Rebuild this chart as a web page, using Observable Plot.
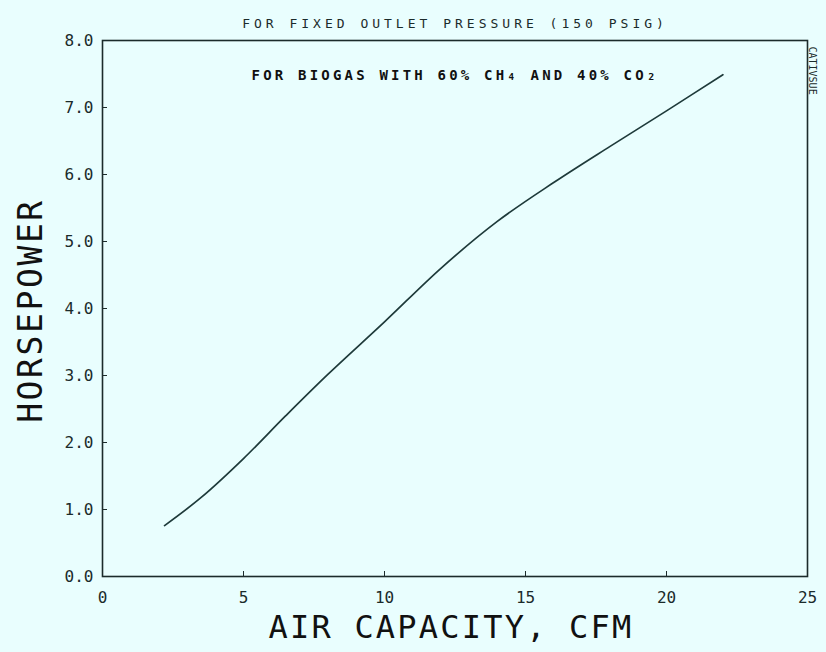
<!DOCTYPE html>
<html>
<head>
<meta charset="utf-8">
<script src="https://cdn.jsdelivr.net/npm/d3@7"></script>
<script src="https://cdn.jsdelivr.net/npm/@observablehq/plot@0.6"></script>
<style>
  html, body { margin: 0; padding: 0; background: #e9fefe; }
  #chart svg { display: block; }
  .t-title text { letter-spacing: 4px; }
  .t-note text { letter-spacing: 3.2px; }
  .t-xlabel text { letter-spacing: 2.2px; }
  .t-ylabel text { letter-spacing: 2.6px; }
</style>
</head>
<body>
<div id="chart"></div>
<script>
// Data (air capacity in CFM vs horsepower)
const airCapacity = [2.2, 3.5, 5, 6.5, 8, 10, 12, 14, 16, 18, 20, 22];
const horsepower  = [0.76, 1.18, 1.76, 2.4, 3.02, 3.8, 4.6, 5.3, 5.88, 6.42, 6.95, 7.49];
const xTicks = [0, 5, 10, 15, 20, 25];
const yTicks = [0, 1, 2, 3, 4, 5, 6, 7, 8];
const titleText = "FOR FIXED OUTLET PRESSURE (150 PSIG)";
const noteText = "FOR BIOGAS WITH 60% CH\u2084 AND 40% CO\u2082";
const xLabel = "AIR CAPACITY, CFM";
const yLabel = "HORSEPOWER";

const data = airCapacity.map((x, i) => ({x, y: horsepower[i]}));
const ink = "#1b2b2b";
const mono = "'DejaVu Sans Mono', 'Liberation Mono', monospace";

const chart = Plot.plot({
  width: 826,
  height: 652,
  marginLeft: 102,
  marginRight: 19,
  marginTop: 40,
  marginBottom: 76,
  style: {background: "#e9fefe", color: ink, fontFamily: mono},
  x: {domain: [0, 25]},
  y: {domain: [0, 8]},
  marks: [
    Plot.frame({stroke: ink, strokeWidth: 1.6}),
    Plot.axisX({ticks: xTicks, tickSize: -5, tickPadding: 20, fontSize: 16, label: null, stroke: ink}),
    Plot.axisY({ticks: yTicks, tickSize: -5, tickPadding: 14, fontSize: 16, label: null, tickFormat: d3.format(".1f"), stroke: ink}),
    Plot.line(data, {x: "x", y: "y", curve: "catmull-rom", stroke: "#1e3a3a", strokeWidth: 1.7}),
    Plot.text([titleText], {frameAnchor: "top", dy: -22, fontSize: 13, fill: ink, className: "t-title"}),
    Plot.text([noteText], {frameAnchor: "top", dy: 30, fontSize: 14, fontWeight: "bold", fill: "#111", className: "t-note"}),
    Plot.text([xLabel], {frameAnchor: "bottom", dx: -4, dy: 61, fontSize: 32, fill: "#111", className: "t-xlabel"}),
    Plot.text([yLabel], {frameAnchor: "left", textAnchor: "middle", dx: -71, dy: 2, rotate: -90, fontSize: 33, fill: "#111", className: "t-ylabel"}),
    Plot.text(["CATIVSUE"], {frameAnchor: "top-right", textAnchor: "start", dx: 9, dy: 6, rotate: 90, fontSize: 10, fill: ink})
  ]
});
document.getElementById("chart").append(chart);
</script>
</body>
</html>
